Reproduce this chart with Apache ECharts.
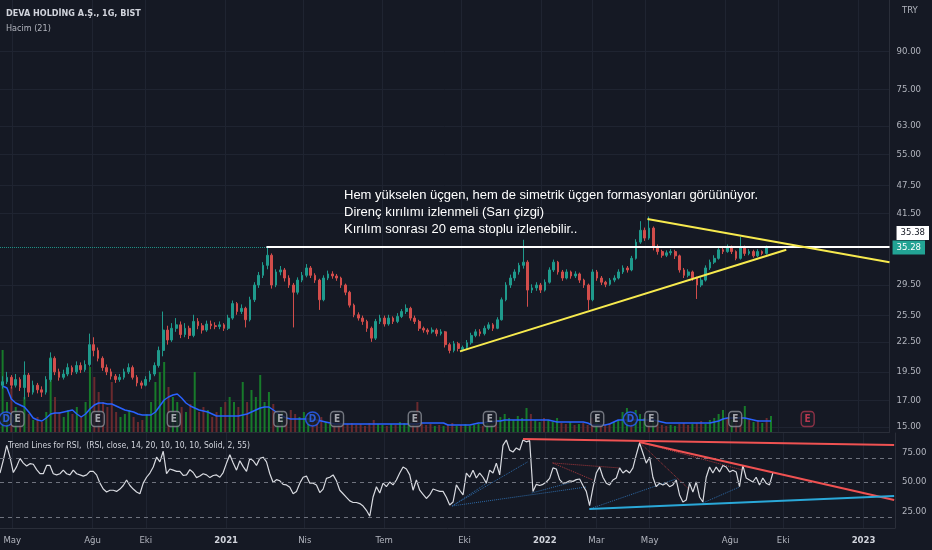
<!DOCTYPE html>
<html><head><meta charset="utf-8">
<script src="https://cdn.jsdelivr.net/npm/echarts@6/dist/echarts.min.js"></script>
<style>html,body{margin:0;padding:0;background:#151924;}#c{width:932px;height:550px;}</style>
</head><body><div id="c"></div>
<script>
const DAY = 86400000;
function d(s){ const p = s.split('-').map(Number); return new Date(p[0], p[1]-1, p[2]).getTime(); }

// ---- axes ----
const xRange = ['2020-04-17', '2023-02-06'];
const xTickDates = ['2020-05-01','2020-08-01','2020-10-01','2021-01-01','2021-04-01','2021-07-01','2021-10-01','2022-01-01','2022-03-01','2022-05-01','2022-08-01','2022-10-01','2023-01-01'];
const xTickLabels = ['May','Ağu','Eki','2021','Nis','Tem','Eki','2022','Mar','May','Ağu','Eki','2023'];
const priceTicks = [15, 17, 19.5, 22.5, 25.5, 29.5, 41.5, 47.5, 55, 63, 75, 90];
const priceRange = [14.64, 114.8];
const lineLevel = 35.38;   // drawn resistance line
const lastPrice = 35.28;   // last close
const rsiTicks = [25, 50, 75];
const rsiLevels = [70, 50, 20];
const rsiRange = [11, 91.5];
const volRange = [0, 100];

// ---- price (sampled every 5 days) [open, close, low, high] ----
const barStart = '2020-04-20';
const barStepDays = 5;
const ohlc = [
[18.3,18.6,18.0,19.1],[18.6,19.0,18.4,19.5],[19.0,18.3,18.0,19.2],[18.3,18.8,18.1,19.3],[18.8,18.1,17.8,19.0],
[18.1,19.2,17.1,20.5],[19.2,17.7,17.3,19.4],[17.7,18.3,17.5,18.7],[18.3,17.9,17.6,18.5],[17.9,17.7,17.3,18.2],
[17.7,18.8,17.5,19.1],[18.8,20.8,18.6,21.4],[20.8,19.5,19.2,21.0],[19.5,19.0,18.7,19.8],[19.0,19.3,18.8,19.7],
[19.3,19.9,19.1,20.3],[19.9,19.5,19.2,20.1],[19.5,20.1,19.3,20.5],[20.1,19.7,19.4,20.4],[19.7,20.2,19.5,20.6],
[20.2,22.2,20.0,23.4],[22.2,21.6,21.0,23.0],[21.6,20.8,20.5,21.9],[20.8,19.9,19.6,21.0],[19.9,19.5,19.2,20.2],
[19.5,19.1,18.8,19.8],[19.1,18.8,18.5,19.3],[18.8,19.0,18.6,19.3],[19.0,19.5,18.8,19.8],[19.5,19.9,19.3,20.3],
[19.9,19.0,18.8,20.1],[19.0,18.5,18.2,19.2],[18.5,18.3,18.0,18.7],[18.3,18.8,18.2,19.1],[18.8,19.3,18.6,19.6],
[19.3,20.1,19.1,20.4],[20.1,21.6,19.9,22.0],[21.6,23.8,21.0,26.0],[23.8,22.7,22.2,24.3],[22.7,24.0,22.5,24.6],
[24.0,24.4,23.6,25.2],[24.4,23.3,22.9,24.8],[23.3,24.0,23.0,24.6],[24.0,23.2,22.8,24.3],[23.2,24.8,23.0,25.6],
[24.8,24.3,23.9,25.2],[24.3,23.8,23.4,24.6],[23.8,24.5,23.6,24.9],[24.5,24.3,23.9,24.9],[24.3,24.2,23.9,24.7],
[24.2,24.4,23.9,24.8],[24.4,24.0,23.7,24.6],[24.0,25.2,23.8,25.6],[25.2,27.0,25.0,27.4],[27.0,26.0,25.6,27.2],
[26.0,26.4,25.7,26.9],[26.4,25.0,24.1,26.6],[25.0,27.5,24.8,27.9],[27.5,29.5,27.2,29.9],[29.5,30.9,29.1,31.4],
[30.9,32.4,30.5,32.9],[32.4,34.0,31.8,35.3],[34.0,29.5,29.0,34.3],[29.5,31.4,29.2,31.8],[31.4,31.7,30.9,32.3],
[31.7,30.5,30.0,32.0],[30.5,29.5,29.1,30.9],[29.5,28.5,24.1,29.8],[28.5,30.2,28.2,30.6],[30.2,30.9,29.9,31.4],
[30.9,32.0,30.6,32.6],[32.0,30.9,30.5,32.3],[30.9,30.2,29.8,31.2],[30.2,27.5,26.2,30.4],[27.5,30.5,27.3,30.9],
[30.5,31.1,30.2,31.6],[31.1,30.8,30.4,31.5],[30.8,30.5,30.1,31.1],[30.5,29.5,29.1,30.7],[29.5,28.5,28.1,29.7],
[28.5,26.8,26.5,28.7],[26.8,25.6,25.3,27.0],[25.6,25.2,24.9,25.9],[25.2,24.8,24.4,25.5],[24.8,24.0,23.6,25.0],
[24.0,22.9,22.5,24.2],[22.9,24.8,22.7,25.1],[24.8,25.2,24.5,25.6],[25.2,24.5,24.2,25.5],[24.5,25.2,24.3,25.6],
[25.2,24.8,24.5,25.4],[24.8,25.4,24.6,25.8],[25.4,26.0,25.2,26.3],[26.0,26.4,25.7,26.9],[26.4,25.2,24.9,26.6],
[25.2,24.8,24.5,25.5],[24.8,24.0,23.7,25.0],[24.0,23.8,23.5,24.2],[23.8,23.6,23.3,24.0],[23.6,23.8,23.4,24.1],
[23.8,23.4,23.1,24.0],[23.4,23.6,23.2,23.9],[23.6,22.2,21.9,23.7],[22.2,21.6,21.3,22.4],[21.6,22.3,21.4,22.6],
[22.3,21.8,21.5,22.5],[21.7,21.9,21.5,22.1],[21.9,22.4,21.7,22.7],[22.4,23.2,22.2,23.5],[23.2,23.6,23.0,23.9],
[23.6,23.4,23.1,23.9],[23.4,24.0,23.2,24.3],[24.0,24.4,23.8,24.7],[24.4,24.0,23.7,24.6],[24.0,25.0,23.9,25.3],
[25.0,27.5,24.9,27.8],[27.5,29.5,27.3,29.9],[29.5,30.5,29.1,31.0],[30.5,31.4,30.1,31.8],[31.4,32.4,31.0,32.8],
[32.4,32.9,31.9,36.6],[32.9,28.8,26.6,33.2],[28.8,29.1,28.4,29.6],[29.1,29.5,28.7,29.9],[29.5,28.8,28.4,29.8],
[28.8,29.9,28.6,30.3],[29.9,31.7,29.7,32.1],[31.7,32.9,31.4,33.3],[32.9,31.4,31.0,33.1],[31.4,30.5,30.1,31.7],
[30.5,31.4,30.3,31.8],[31.4,30.8,30.4,31.6],[30.8,31.1,30.5,31.5],[31.1,30.2,29.8,31.3],[30.2,29.5,29.1,30.4],
[29.5,27.5,26.2,29.7],[27.5,31.4,27.3,31.8],[31.4,30.5,30.1,31.7],[30.5,29.9,29.5,30.8],[29.9,29.6,29.2,30.1],
[29.6,30.2,29.4,30.5],[30.2,30.5,29.9,30.9],[30.5,31.4,30.3,31.8],[31.4,32.0,31.1,32.4],[32.0,31.7,31.3,32.3],
[31.7,33.5,31.5,33.9],[33.5,36.2,33.3,36.7],[36.2,38.3,35.9,40.0],[38.3,36.9,36.4,38.8],[36.9,38.7,36.6,40.9],
[38.7,35.3,34.8,39.0],[35.3,34.6,34.1,35.8],[34.6,34.0,33.6,34.9],[34.0,34.4,33.7,34.8],[34.4,34.6,34.0,35.0],
[34.6,33.9,33.4,34.9],[33.9,31.7,31.3,34.1],[31.7,30.9,30.5,32.0],[30.9,31.4,30.6,31.8],[31.4,30.5,30.1,31.6],
[30.5,29.5,27.6,30.7],[29.5,30.2,29.2,30.6],[30.2,32.0,30.0,32.4],[32.0,32.9,31.7,33.3],[32.9,33.5,32.6,34.0],
[33.5,34.9,33.3,35.5],[34.9,34.6,34.2,35.4],[34.6,35.3,34.4,35.8],[35.3,34.6,34.2,35.6],[34.6,33.5,33.2,34.8],
[33.5,35.3,33.3,37.1],[35.3,34.3,33.9,35.6],[34.3,34.6,34.0,35.0],[34.6,33.9,33.6,34.9],[33.9,34.6,33.7,35.0],
[34.6,34.3,34.0,34.8],[34.3,35.28,34.1,35.6]
];
const volume = [
82,30,45,25,20,35,18,12,15,10, 20,75,35,20,15,22,18,25,15,30, 65,55,40,30,25,50,20,15,18,22,
15,10,12,18,30,50,60,70,45,35, 30,25,20,28,60,20,25,22,15,20, 25,30,35,30,25,50,30,42,35,57,
30,40,28,18,20,15,22,18,15,20, 12,10,12,15,10,8,8,10,7,8, 9,7,8,6,9,12,8,7,6,8,
7,10,9,12,8,30,9,7,8,6, 7,6,8,9,6,7,8,6,7,8, 6,9,8,10,15,18,14,12,16,14,
24,18,12,10,14,12,10,14,9,8, 10,7,8,9,7,14,12,8,7,9, 10,12,20,24,16,22,18,14,12,10,
8,7,6,7,6,8,9,7,8,9, 11,8,12,14,18,22,14,12,18,16, 26,12,10,12,9,14,16
];
const volumeMA = [
46,44,33,29,27,25,20,14,12,11, 14,18,19,19,20,21,22,18,15,18, 23,27,29,29,28,28,26,24,22,21,
20,18,17,17,17,20,26,32,35,37, 38,34,29,26,24,22,21,20,18,16, 16,16,16,16,16,17,18,20,22,24,
25,25,22,19,16,14,13,13,13,13, 13,13,12,11,10,9,8,8,8,8, 8,8,8,8,8,8,8,8,8,8,
8,8,8,8,8,8,9,9,9,9, 9,9,7,7,7,7,7,7,8,9, 9,10,10,11,11,12,12,12,12,12,
12,12,12,12,12,12,11,10,10,10, 10,10,10,10,9,7,7,7,7,8, 10,12,12,12,12,12,12,12,12,12,
11,10,9,9,9,9,9,9,9,9, 9,9,9,10,11,13,14,14,14,14, 14,13,12,11,11,11,11
];

// ---- events (D = dividend, E = earnings, F = upcoming earnings) ----
const eventDates = ['2020-04-24','2020-05-07','2020-08-07','2020-11-02','2021-03-04','2021-04-10','2021-05-08','2021-08-05','2021-10-30','2022-03-02','2022-04-09','2022-05-03','2022-08-07','2022-10-29'];
const eventKinds = ['D','E','E','E','E','D','E','E','E','E','D','E','E','F'];
const eventLevel = 13;

// ---- RSI (sampled every 3.815 days) ----
const rsiStart = '2020-04-17';
const rsiStepDays = 3.815;
const rsi = [
57.6,68.6,81,71,58,63,70,66,63.5,65.5, 65,60.5,57,57,64,64,57,56,57,60,
57,56,60,57,56,55,56,59,59,56, 49,44,41.5,43,43,42,44,47,51.7,47,
44,41.5,40,49,54,57.6,62.7,71,67,76, 57,61,60,59,59,55.5,56,60.5,58,53.7,
55,57,56,53.7,55.5,56,54,58,66,73, 66,60,68,63,59,70,68,64,70,71,
67,57,49.5,52,51,48,47.5,45.5,40,42, 49,54,55,49,49,47.5,41,44,53,54,
56,51,43,40,37,34,32.6,32.6,31.7,29.6, 26,21,37.3,46,40.7,49,46,50,47.5,51.7,
57.6,62.7,61,56,43,51.7,43,39.5,36,39, 44,43,42,42,37,
30.5,33,47.5,43,39,57.6,54,60,53.4,57.6, 54,49,60,57.6,66,56,81,85.6,77,75.4,
78.8,77,85.6,84,85,42,48,47,48,50, 53,62,61,52,49,49.5,51,50.5,52,52.5,
47,42,30,45,57.6,62.7,54,49,47.5,51.7, 53.4,62,57.6,60,57.6,62,73,83,74.6,66,
71,54,46,49,47.5,49,46,47.5,51.7,39, 33,34.7,49,41.5,50,37.3,33,54,62.7,57.6,
62.7,58.5,64,62.7,58.5,60,58.5,46,64,53.4, 51.7,50,54,47.5,53.4,49,47.5,57.6
];

// ---- drawn lines ----
const whiteLine = [['2021-02-18', 35.38], ['2023-02-06', 35.38]];
const yellowLines = [
  [['2021-09-29', 21.5], ['2022-10-10', 34.9]],
  [['2022-05-03', 40.4], ['2023-02-06', 32.9]]
];
const rsiRedLines = [
  [['2021-12-07', 86.4], ['2023-02-05', 81.4]],
  [['2022-04-19', 83.9], ['2023-02-05', 34.7]]
];
const rsiCyanLines = [
  [['2022-02-21', 27.1], ['2023-02-05', 38.1]]
];
const rsiRedDotted = [
  [['2022-01-10', 66.1], ['2022-02-25', 51.7]],
  [['2022-01-10', 66.1], ['2022-03-27', 61.9]],
  [['2022-04-19', 83.9], ['2022-06-16', 43.2]],
  [['2022-04-19', 83.9], ['2022-08-15', 60.2]]
];
const rsiBlueDotted = [
  [['2021-09-17', 29.7], ['2021-12-12', 66.9]],
  [['2021-09-17', 29.7], ['2021-10-27', 49.2]],
  [['2021-09-17', 29.7], ['2022-02-18', 45.8]],
  [['2021-12-17', 40.7], ['2022-01-29', 49.2]],
  [['2022-02-21', 27.1], ['2022-05-31', 52.5]],
  [['2022-07-01', 32.2], ['2022-08-12', 45.8]]
];

// ---- texts ----
const headerTitle = 'DEVA HOLDİNG A.Ş., 1G, BIST';
const volumeTitle = 'Hacim (21)';
const currencyLabel = 'TRY';
const rsiTitle = 'Trend Lines for RSI,  (RSI, close, 14, 20, 10, 10, 10, Solid, 2, 55)';
const noteLines = ['Hem yükselen üçgen, hem de simetrik üçgen formasyonları görüünüyor.', 'Direnç kırılımı izlenmeli (Sarı çizgi)', 'Kırılım sonrası 20 ema stoplu izlenebilir..'];

// ================= build =================
function fontAvailable(name) {
  const c = document.createElement('canvas').getContext('2d');
  const s = 'abcdefghijklmnopqrstuvwxyzABCDEFGH0123456789';
  c.font = '20px monospace'; const w1 = c.measureText(s).width;
  c.font = "20px '" + name + "', monospace"; const w2 = c.measureText(s).width;
  return Math.abs(w1 - w2) > 0.5;
}
const narrowCandidates = ['Liberation Sans Narrow', 'Noto Sans Condensed', 'DejaVu Sans Condensed', 'Noto Sans SemiCondensed'];
const narrowFound = narrowCandidates.find(fontAvailable);
const NARROW = narrowFound ? "'" + narrowFound + "',sans-serif" : "'Liberation Sans',sans-serif";

const BG = '#151924';
const GRIDC = '#1f2431';
const AXC = '#2a2e39';
const TXT = '#b2b5be';
const UP = '#1f9a8c', DOWN = '#d24d4b';
const xMin = d(xRange[0]), xMax = d(xRange[1]);
const xTickTimes = xTickDates.map(d);
const barTimes = ohlc.map((_, i) => d(barStart) + i * barStepDays * DAY);
const candleData = ohlc.map((r, i) => [barTimes[i], r[0], r[1], r[2], r[3]]);
const volData = volume.map((v, i) => ({ value: [barTimes[i], v], itemStyle: { color: ohlc[i][1] >= ohlc[i][0] ? '#177a2a' : '#6a2a2e' } }));
const volMAData = volumeMA.map((v, i) => [barTimes[i], v]);
const rsiData = rsi.map((v, i) => [d(rsiStart) + i * rsiStepDays * DAY, v]);
const seg = list => list.map(s => ({ coords: s.map(p => [d(p[0]), p[1]]) }));

const eventData = eventDates.map((s, i) => {
  const k = eventKinds[i];
  const isD = k === 'D', isF = k === 'F';
  return {
    value: [d(s), eventLevel],
    symbol: isD ? 'circle' : 'roundRect',
    symbolSize: isD ? 14 : [13, 15],
    itemStyle: { color: '#1a1e29', borderColor: isD ? '#2962ff' : (isF ? '#a8374e' : '#8a8d96'), borderWidth: 1.5 },
    label: { show: true, position: 'inside', formatter: isD ? 'D' : 'E', color: isD ? '#2f6bff' : (isF ? '#e0405a' : '#c8cad0'), fontSize: 10, fontWeight: 'bold', fontFamily: NARROW }
  };
});

const xAxisBase = {
  type: 'value', min: xMin, max: xMax, scale: true,
  axisTick: { show: false, customValues: xTickTimes },
  splitLine: { show: true, lineStyle: { color: GRIDC, width: 1 } }
};
const AXFS = 9.5;

const option = {
  animation: false,
  backgroundColor: BG,
  title: [
    { text: headerTitle, left: 6, top: 9, padding: 0, textStyle: { color: '#d1d4dc', fontSize: 9, fontWeight: 'bold', fontFamily: NARROW } },
    { text: volumeTitle, left: 6, top: 24, padding: 0, textStyle: { color: TXT, fontSize: 9, fontWeight: 'normal', fontFamily: NARROW } },
    { text: currencyLabel, left: 902, top: 6, padding: 0, textStyle: { color: TXT, fontSize: AXFS, fontWeight: 'normal', fontFamily: NARROW } },
    { text: noteLines.join('\n'), left: 344, top: 187, padding: 0, textStyle: { color: '#ffffff', fontSize: 13, lineHeight: 17, fontWeight: 'normal', fontFamily: "'Liberation Sans',sans-serif" } },
    { text: rsiTitle, left: 8, top: 441, padding: 0, textStyle: { color: '#d1d4dc', fontSize: 8.5, fontWeight: 'normal', fontFamily: NARROW } }
  ],
  grid: [
    { left: 0, right: 37, top: 0, height: 432 },
    { left: 0, right: 37, top: 332, height: 100 },
    { left: 0, right: 37, top: 433, height: 95 }
  ],
  xAxis: [
    Object.assign({}, xAxisBase, { gridIndex: 0, axisLabel: { show: false }, axisLine: { show: true, onZero: false, lineStyle: { color: AXC } } }),
    { type: 'value', gridIndex: 1, min: xMin, max: xMax, scale: true, show: false },
    Object.assign({}, xAxisBase, {
      gridIndex: 2,
      axisLine: { show: true, onZero: false, lineStyle: { color: AXC } },
      axisLabel: {
        customValues: xTickTimes, color: TXT, fontSize: AXFS, fontFamily: NARROW, margin: 8,
        formatter: v => {
          const i = xTickTimes.findIndex(t => Math.abs(t - v) < DAY);
          if (i < 0) return '';
          const lab = xTickLabels[i];
          return /^\d{4}$/.test(lab) ? '{b|' + lab + '}' : lab;
        },
        rich: { b: { fontWeight: 'bold', color: '#d1d4dc', fontSize: AXFS, fontFamily: NARROW } }
      }
    })
  ],
  yAxis: [
    {
      type: 'log', gridIndex: 0, position: 'right', min: priceRange[0], max: priceRange[1],
      axisLine: { show: true, lineStyle: { color: AXC } },
      axisTick: { show: false, customValues: priceTicks },
      splitLine: { show: true, lineStyle: { color: GRIDC } },
      axisLabel: {
        customValues: priceTicks.concat([lineLevel]), margin: 7,
        color: TXT, fontSize: AXFS, fontFamily: NARROW,
        formatter: v => {
          if (Math.abs(v - lineLevel) < 1e-6) return '{w|' + v.toFixed(2) + '}\n{sp| }';
          return v.toFixed(2);
        },
        rich: {
          w: { backgroundColor: '#ffffff', color: '#131722', padding: [2, 4, 2, 4], fontSize: AXFS, fontFamily: NARROW },
          sp: { lineHeight: 28, fontSize: 2 }
        }
      }
    },
    { type: 'value', gridIndex: 1, min: volRange[0], max: volRange[1], show: false },
    {
      type: 'value', gridIndex: 2, position: 'right', min: rsiRange[0], max: rsiRange[1],
      axisLine: { show: true, lineStyle: { color: AXC } },
      axisTick: { show: false, customValues: rsiTicks },
      splitLine: { show: false },
      axisLabel: { customValues: rsiTicks, margin: 7, color: TXT, fontSize: AXFS, fontFamily: NARROW, formatter: v => v.toFixed(2) }
    },
    {
      type: 'log', gridIndex: 0, position: 'right', min: priceRange[0], max: priceRange[1],
      axisLine: { show: false }, splitLine: { show: false },
      axisTick: { show: false, customValues: [lastPrice] },
      axisLabel: {
        customValues: [lastPrice], margin: 3, fontSize: AXFS, fontFamily: NARROW,
        color: '#ffffff', backgroundColor: '#22a394', padding: [2, 4, 2, 4],
        formatter: v => v.toFixed(2)
      }
    }
  ],
  series: [
    { type: 'bar', name: 'vol', xAxisIndex: 1, yAxisIndex: 1, data: volData, barWidth: 2, z: 1, silent: true },
    { type: 'line', name: 'volMA', xAxisIndex: 1, yAxisIndex: 1, data: volMAData, symbol: 'none', z: 2, lineStyle: { color: '#2962ff', width: 1.5 }, silent: true },
    { type: 'scatter', name: 'events', xAxisIndex: 1, yAxisIndex: 1, data: eventData, z: 4, silent: true },
    {
      type: 'candlestick', name: 'price', xAxisIndex: 0, yAxisIndex: 0, data: candleData, encode: { x: 0, y: [1, 2, 3, 4] },
      barWidth: 2.2, z: 3, silent: true,
      itemStyle: { color: UP, color0: DOWN, borderColor: UP, borderColor0: DOWN, borderWidth: 1 },
      markLine: { silent: true, symbol: ['none', 'none'], label: { show: false }, lineStyle: { color: '#1f8f84', type: 'dotted', width: 1, opacity: 1 }, data: [{ yAxis: lastPrice }] }
    },
    { type: 'lines', coordinateSystem: 'cartesian2d', xAxisIndex: 0, yAxisIndex: 0, z: 5, silent: true, data: seg([whiteLine]), lineStyle: { color: '#ffffff', width: 2, opacity: 1 } },
    { type: 'lines', coordinateSystem: 'cartesian2d', xAxisIndex: 0, yAxisIndex: 0, z: 5, silent: true, data: seg(yellowLines), lineStyle: { color: '#f7ea4e', width: 2, opacity: 1 } },
    {
      type: 'line', name: 'rsi', xAxisIndex: 2, yAxisIndex: 2, data: rsiData, symbol: 'none', z: 4, silent: true,
      lineStyle: { color: '#d8dae0', width: 1.2 },
      markLine: { silent: true, symbol: ['none', 'none'], label: { show: false }, lineStyle: { color: '#6f737e', type: [4, 4], width: 1 }, data: rsiLevels.map(v => ({ yAxis: v })) }
    },
    { type: 'lines', coordinateSystem: 'cartesian2d', xAxisIndex: 2, yAxisIndex: 2, z: 3, silent: true, data: seg(rsiBlueDotted), lineStyle: { color: '#2d6aa8', width: 1, type: 'dotted', opacity: 1 } },
    { type: 'lines', coordinateSystem: 'cartesian2d', xAxisIndex: 2, yAxisIndex: 2, z: 3, silent: true, data: seg(rsiRedDotted), lineStyle: { color: '#a8383c', width: 1, type: 'dotted', opacity: 1 } },
    { type: 'lines', coordinateSystem: 'cartesian2d', xAxisIndex: 2, yAxisIndex: 2, z: 5, silent: true, data: seg(rsiRedLines), lineStyle: { color: '#f05252', width: 2, opacity: 1 } },
    { type: 'lines', coordinateSystem: 'cartesian2d', xAxisIndex: 2, yAxisIndex: 2, z: 5, silent: true, data: seg(rsiCyanLines), lineStyle: { color: '#2aa8d8', width: 2, opacity: 1 } }
  ]
};

const chart = echarts.init(document.getElementById('c'));
chart.setOption(option);
</script>
</body></html>
